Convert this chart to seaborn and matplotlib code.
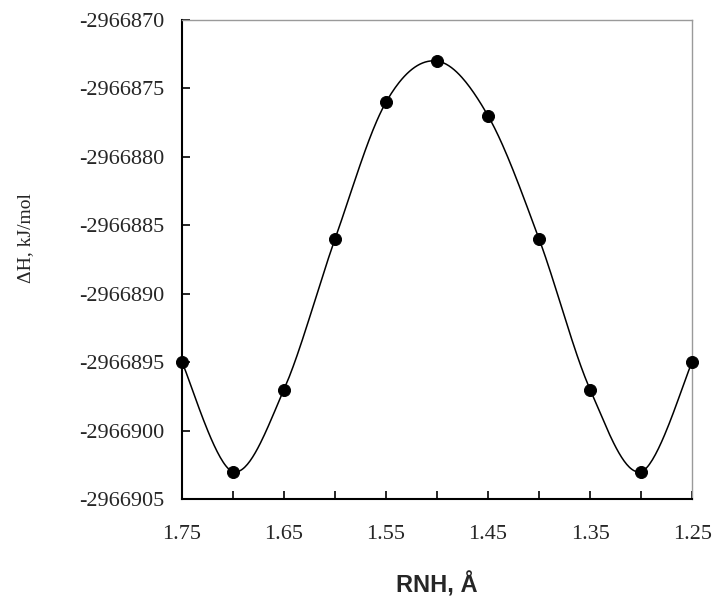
import numpy as np
import pandas as pd
import seaborn as sns
from matplotlib import pyplot as plt

# data
rnh = [1.75, 1.70, 1.65, 1.60, 1.55, 1.50, 1.45, 1.40, 1.35, 1.30, 1.25]
dh = [-2966895, -2966903, -2966897, -2966886, -2966876, -2966873,
      -2966877, -2966886, -2966897, -2966903, -2966895]
x_labels = ["1.75", "", "1.65", "", "1.55", "", "1.45", "", "1.35", "", "1.25"]
y_ticks = [-2966905, -2966900, -2966895, -2966890, -2966885, -2966880,
           -2966875, -2966870]


def smooth_line(x, y, n=40):
    # excel-style smoothed line (cubic bezier, catmull-rom control points)
    x = np.asarray(x, float)
    y = np.asarray(y, float)
    px = np.concatenate([[x[0]], x, [x[-1]]])
    py = np.concatenate([[y[0]], y, [y[-1]]])
    t = np.linspace(0, 1, n)[:, None]
    xs, ys = [], []
    for i in range(1, len(px) - 2):
        p0 = np.array([px[i], py[i]])
        p3 = np.array([px[i + 1], py[i + 1]])
        c1 = p0 + (np.array([px[i + 1], py[i + 1]]) - np.array([px[i - 1], py[i - 1]])) / 6
        c2 = p3 - (np.array([px[i + 2], py[i + 2]]) - np.array([px[i], py[i]])) / 6
        pts = ((1 - t) ** 3) * p0 + 3 * ((1 - t) ** 2) * t * c1 + 3 * (1 - t) * t ** 2 * c2 + t ** 3 * p3
        xs.append(pts[:, 0])
        ys.append(pts[:, 1])
    return np.concatenate(xs), np.concatenate(ys)


sns.set_style("white")
plt.rcParams['font.family'] = ['Liberation Serif', 'DejaVu Serif']

df = pd.DataFrame({"RNH": rnh, "dH": dh})
sx, sy = smooth_line(rnh, dh)
curve = pd.DataFrame({"x": sx, "y": sy})

fig = plt.figure(figsize=(7.15, 6.01), dpi=100)
ax = fig.add_axes([0.2545, 0.1697, 0.7135, 0.797])

sns.lineplot(data=curve, x="x", y="y", sort=False, color="black", lw=1.1, ax=ax)
sns.scatterplot(data=df, x="RNH", y="dH", color="black", s=75, edgecolor="black",
                zorder=5, clip_on=False, ax=ax)

ax.set_xlim(1.75, 1.25)
ax.set_ylim(-2966905, -2966870)
ax.set_xticks(rnh)
ax.set_xticklabels(x_labels)
ax.set_yticks(y_ticks)
ax.set_yticklabels([str(v) for v in y_ticks])

ax.tick_params(axis="both", direction="in", length=6, width=1.2, color="black",
               labelsize=16, left=True, bottom=True)
ax.tick_params(axis="y", pad=13)
ax.tick_params(axis="x", pad=19)

for side in ["left", "bottom"]:
    ax.spines[side].set_color("black")
    ax.spines[side].set_linewidth(1.5)
for side in ["top", "right"]:
    ax.spines[side].set_color("#9a9a9a")
    ax.spines[side].set_linewidth(1.0)

ax.set_xlabel("RNH, Å", fontsize=17, fontweight="bold", family=["Liberation Sans", "DejaVu Sans"],
              labelpad=20)
ax.set_ylabel("ΔH, kJ/mol", fontsize=14)
ax.yaxis.set_label_coords(-0.29, 0.545)

fig.savefig("out.png", dpi=100)
